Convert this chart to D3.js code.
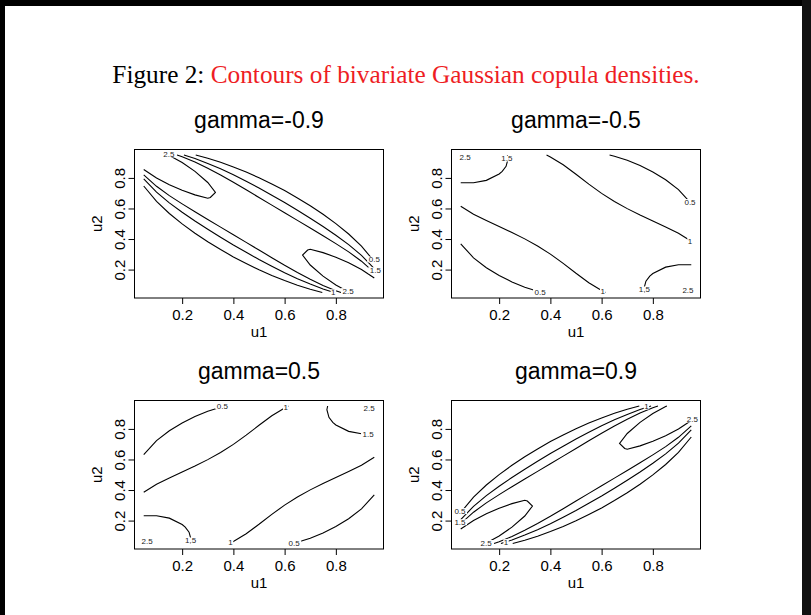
<!DOCTYPE html>
<html>
<head>
<meta charset="utf-8">
<script src="https://cdn.jsdelivr.net/npm/d3@7"></script>
<style>
  body { margin: 0; background: #fff; }
  svg { display: block; }
</style>
</head>
<body>
<svg id="fig" width="811" height="615"></svg>
<script>
// correlation of each panel, in reading order
const gammas = [-0.9, -0.5, 0.5, 0.9];
const axisTicks = [0.2, 0.4, 0.6, 0.8];

// contour lines per panel: level + [u1, u2] points
const linesM09 = [
  { level: 2.5, pts: [[0.145,0.95],[0.15,0.9465],[0.20,0.901],[0.25,0.843],[0.30,0.770],[0.33,0.705],[0.31,0.672],[0.30,0.667],[0.25,0.689],[0.20,0.719],[0.15,0.755],[0.10,0.799],[0.05,0.855]] },
  { level: 1.5, pts: [[0.18,0.95],[0.20,0.938],[0.25,0.904],[0.30,0.863],[0.35,0.819],[0.40,0.772],[0.45,0.722],[0.50,0.672],[0.55,0.622],[0.60,0.572],[0.65,0.522],[0.70,0.472],[0.75,0.422],[0.80,0.370],[0.85,0.316],[0.90,0.255],[0.95,0.180]] },
  { level: 1, pts: [[0.207,0.95],[0.25,0.927],[0.30,0.895],[0.35,0.860],[0.40,0.821],[0.45,0.778],[0.50,0.734],[0.55,0.687],[0.60,0.639],[0.65,0.588],[0.70,0.536],[0.75,0.482],[0.80,0.425],[0.85,0.363],[0.90,0.293],[0.95,0.207]] },
  { level: 0.5, pts: [[0.253,0.95],[0.30,0.929],[0.35,0.902],[0.40,0.872],[0.45,0.838],[0.50,0.801],[0.55,0.760],[0.60,0.717],[0.65,0.669],[0.70,0.618],[0.75,0.562],[0.80,0.501],[0.85,0.433],[0.90,0.354],[0.95,0.253]] },
  { level: 1.5, pts: [[0.05,0.820],[0.10,0.745],[0.15,0.684],[0.20,0.630],[0.25,0.578],[0.30,0.528],[0.35,0.478],[0.40,0.428],[0.45,0.378],[0.50,0.328],[0.55,0.278],[0.60,0.228],[0.65,0.181],[0.70,0.137],[0.75,0.096],[0.80,0.062],[0.82,0.05]] },
  { level: 1, pts: [[0.05,0.793],[0.10,0.707],[0.15,0.637],[0.20,0.575],[0.25,0.518],[0.30,0.464],[0.35,0.412],[0.40,0.361],[0.45,0.313],[0.50,0.266],[0.55,0.222],[0.60,0.179],[0.65,0.140],[0.70,0.105],[0.75,0.073],[0.793,0.05]] },
  { level: 0.5, pts: [[0.05,0.747],[0.10,0.646],[0.15,0.567],[0.20,0.499],[0.25,0.438],[0.30,0.382],[0.35,0.331],[0.40,0.283],[0.45,0.240],[0.50,0.199],[0.55,0.162],[0.60,0.128],[0.65,0.098],[0.70,0.071],[0.747,0.05]] },
  { level: 2.5, pts: [[0.95,0.145],[0.90,0.201],[0.85,0.245],[0.80,0.281],[0.75,0.311],[0.70,0.333],[0.69,0.328],[0.67,0.295],[0.70,0.230],[0.75,0.157],[0.80,0.099],[0.85,0.0535],[0.855,0.05]] }
];
const labelsM09 = [["2.5",0.148,0.954],["0.5",0.950,0.266],["1.5",0.954,0.196],["1",0.790,0.051],["2.5",0.848,0.059]];

const linesM05 = [
  { level: 2.5, pts: [[0.05,0.923],[0.077,0.95]] },
  { level: 1.5, pts: [[0.05,0.768],[0.10,0.768],[0.15,0.784],[0.20,0.826],[0.212,0.843],[0.227,0.876],[0.235,0.926],[0.232,0.95]] },
  { level: 1, pts: [[0.385,0.95],[0.40,0.9375],[0.45,0.886],[0.50,0.824],[0.55,0.759],[0.60,0.699],[0.65,0.646],[0.70,0.599],[0.75,0.557],[0.80,0.518],[0.85,0.479],[0.90,0.438],[0.95,0.385]] },
  { level: 0.5, pts: [[0.631,0.95],[0.65,0.9415],[0.70,0.915],[0.75,0.881],[0.80,0.839],[0.85,0.788],[0.90,0.723],[0.95,0.631]] },
  { level: 1, pts: [[0.05,0.615],[0.10,0.562],[0.15,0.521],[0.20,0.482],[0.25,0.443],[0.30,0.401],[0.35,0.354],[0.40,0.301],[0.45,0.241],[0.50,0.176],[0.55,0.114],[0.60,0.0625],[0.615,0.05]] },
  { level: 0.5, pts: [[0.05,0.369],[0.10,0.277],[0.15,0.212],[0.20,0.161],[0.25,0.119],[0.30,0.085],[0.35,0.0585],[0.369,0.05]] },
  { level: 1.5, pts: [[0.95,0.232],[0.90,0.232],[0.85,0.216],[0.80,0.174],[0.788,0.157],[0.773,0.124],[0.765,0.074],[0.768,0.05]] },
  { level: 2.5, pts: [[0.95,0.077],[0.923,0.05]] }
];
const labelsM05 = [["2.5",0.067,0.936],["1.5",0.230,0.927],["0.5",0.945,0.642],["1",0.945,0.389],["0.5",0.360,0.053],["1",0.604,0.057],["1.5",0.767,0.070],["2.5",0.937,0.064]];

const linesP05 = [
  { level: 2.5, pts: [[0.95,0.923],[0.923,0.95]] },
  { level: 1.5, pts: [[0.95,0.768],[0.90,0.768],[0.85,0.784],[0.80,0.826],[0.788,0.843],[0.773,0.876],[0.765,0.926],[0.768,0.95]] },
  { level: 1, pts: [[0.615,0.95],[0.60,0.9375],[0.55,0.886],[0.50,0.824],[0.45,0.759],[0.40,0.699],[0.35,0.646],[0.30,0.599],[0.25,0.557],[0.20,0.518],[0.15,0.479],[0.10,0.438],[0.05,0.385]] },
  { level: 0.5, pts: [[0.369,0.95],[0.35,0.9415],[0.30,0.915],[0.25,0.881],[0.20,0.839],[0.15,0.788],[0.10,0.723],[0.05,0.631]] },
  { level: 1, pts: [[0.95,0.615],[0.90,0.562],[0.85,0.521],[0.80,0.482],[0.75,0.443],[0.70,0.401],[0.65,0.354],[0.60,0.301],[0.55,0.241],[0.50,0.176],[0.45,0.114],[0.40,0.0625],[0.385,0.05]] },
  { level: 0.5, pts: [[0.95,0.369],[0.90,0.277],[0.85,0.212],[0.80,0.161],[0.75,0.119],[0.70,0.085],[0.65,0.0585],[0.631,0.05]] },
  { level: 1.5, pts: [[0.05,0.232],[0.10,0.232],[0.15,0.216],[0.20,0.174],[0.212,0.157],[0.227,0.124],[0.235,0.074],[0.232,0.05]] },
  { level: 2.5, pts: [[0.05,0.077],[0.077,0.05]] }
];
const labelsP05 = [["0.5",0.357,0.949],["1",0.604,0.943],["2.5",0.930,0.936],["1.5",0.926,0.767],["2.5",0.063,0.064],["1.5",0.233,0.070],["1",0.389,0.059],["0.5",0.637,0.053]];

const linesP09 = [
  { level: 2.5, pts: [[0.855,0.95],[0.85,0.9465],[0.80,0.901],[0.75,0.843],[0.70,0.770],[0.67,0.705],[0.69,0.672],[0.70,0.667],[0.75,0.689],[0.80,0.719],[0.85,0.755],[0.90,0.799],[0.95,0.855]] },
  { level: 1.5, pts: [[0.82,0.95],[0.80,0.938],[0.75,0.904],[0.70,0.863],[0.65,0.819],[0.60,0.772],[0.55,0.722],[0.50,0.672],[0.45,0.622],[0.40,0.572],[0.35,0.522],[0.30,0.472],[0.25,0.422],[0.20,0.370],[0.15,0.316],[0.10,0.255],[0.05,0.180]] },
  { level: 1, pts: [[0.793,0.95],[0.75,0.927],[0.70,0.895],[0.65,0.860],[0.60,0.821],[0.55,0.778],[0.50,0.734],[0.45,0.687],[0.40,0.639],[0.35,0.588],[0.30,0.536],[0.25,0.482],[0.20,0.425],[0.15,0.363],[0.10,0.293],[0.05,0.207]] },
  { level: 0.5, pts: [[0.747,0.95],[0.70,0.929],[0.65,0.902],[0.60,0.872],[0.55,0.838],[0.50,0.801],[0.45,0.760],[0.40,0.717],[0.35,0.669],[0.30,0.618],[0.25,0.562],[0.20,0.501],[0.15,0.433],[0.10,0.354],[0.05,0.253]] },
  { level: 1.5, pts: [[0.95,0.820],[0.90,0.745],[0.85,0.684],[0.80,0.630],[0.75,0.578],[0.70,0.528],[0.65,0.478],[0.60,0.428],[0.55,0.378],[0.50,0.328],[0.45,0.278],[0.40,0.228],[0.35,0.181],[0.30,0.137],[0.25,0.096],[0.20,0.062],[0.18,0.05]] },
  { level: 1, pts: [[0.95,0.793],[0.90,0.707],[0.85,0.637],[0.80,0.575],[0.75,0.518],[0.70,0.464],[0.65,0.412],[0.60,0.361],[0.55,0.313],[0.50,0.266],[0.45,0.222],[0.40,0.179],[0.35,0.140],[0.30,0.105],[0.25,0.073],[0.207,0.05]] },
  { level: 0.5, pts: [[0.95,0.747],[0.90,0.646],[0.85,0.567],[0.80,0.499],[0.75,0.438],[0.70,0.382],[0.65,0.331],[0.60,0.283],[0.55,0.240],[0.50,0.199],[0.45,0.162],[0.40,0.128],[0.35,0.098],[0.30,0.071],[0.253,0.05]] },
  { level: 2.5, pts: [[0.05,0.145],[0.10,0.201],[0.15,0.245],[0.20,0.281],[0.25,0.311],[0.30,0.333],[0.31,0.328],[0.33,0.295],[0.30,0.230],[0.25,0.157],[0.20,0.099],[0.15,0.0535],[0.145,0.05]] }
];
const labelsP09 = [["0.5",0.047,0.262],["1.5",0.047,0.189],["1",0.775,0.947],["2.5",0.954,0.862],["2.5",0.149,0.053],["1",0.227,0.059]];

const svg = d3.select('#fig');
const sans = 'Liberation Sans, Arial, Helvetica, sans-serif';

// page frame
svg.append('rect').attr('x', 0).attr('y', 0).attr('width', 811).attr('height', 6).attr('fill', '#000');
svg.append('rect').attr('x', 0).attr('y', 0).attr('width', 5).attr('height', 615).attr('fill', '#000');
svg.append('rect').attr('x', 802).attr('y', 0).attr('width', 9).attr('height', 615).attr('fill', '#111');

// caption
const cap = svg.append('text')
  .attr('x', 406).attr('y', 83)
  .attr('text-anchor', 'middle')
  .style('font-family', 'Liberation Serif, Times New Roman, serif')
  .style('font-size', '25.3px');
cap.append('tspan').attr('fill', '#000').text('Figure 2: ');
cap.append('tspan').attr('fill', '#ee1d24').text('Contours of bivariate Gaussian copula densities.');

const panels = [
  { gamma: gammas[0], lines: linesM09, labels: labelsM09, left: 134.5, top: 149.5 },
  { gamma: gammas[1], lines: linesM05, labels: labelsM05, left: 451.5, top: 149.5 },
  { gamma: gammas[2], lines: linesP05, labels: labelsP05, left: 134.5, top: 400.5 },
  { gamma: gammas[3], lines: linesP09, labels: labelsP09, left: 451.5, top: 400.5 }
];
const pw = 249, ph = 148.5;

panels.forEach(p => {
  const g = svg.append('g').attr('transform', `translate(${p.left},${p.top})`);
  const x = d3.scaleLinear().domain([0.014, 0.986]).range([0, pw]);
  const y = d3.scaleLinear().domain([0.014, 0.986]).range([ph, 0]);

  const line = d3.line().x(d => x(d[0])).y(d => y(d[1]));
  g.selectAll('path.contour')
    .data(p.lines)
    .enter()
    .append('path')
    .attr('class', 'contour')
    .attr('d', d => line(d.pts))
    .attr('fill', 'none')
    .attr('stroke', '#000')
    .attr('stroke-width', 1.1);

  // level labels sit on the line ends
  const lab = g.selectAll('g.lab')
    .data(p.labels)
    .enter()
    .append('g')
    .attr('class', 'lab')
    .attr('transform', d => `translate(${x(d[1])},${y(d[2])})`);
  lab.append('rect')
    .attr('x', d => -d[0].length * 2.2 - 0.5)
    .attr('y', -3)
    .attr('width', d => d[0].length * 4.4 + 1)
    .attr('height', 6)
    .attr('fill', '#fff');
  lab.append('text')
    .attr('text-anchor', 'middle')
    .attr('dy', '0.35em')
    .style('font-family', sans)
    .style('font-size', '8px')
    .attr('fill', '#222')
    .text(d => d[0]);

  g.append('rect')
    .attr('width', pw).attr('height', ph)
    .attr('fill', 'none').attr('stroke', '#000').attr('stroke-width', 1);

  const xAxis = g.append('g')
    .attr('transform', `translate(0,${ph})`)
    .call(d3.axisBottom(x).tickValues(axisTicks).tickSize(6).tickPadding(3).tickFormat(d3.format('.1f')));
  const yAxis = g.append('g')
    .call(d3.axisLeft(y).tickValues(axisTicks).tickSize(6).tickPadding(3).tickFormat(d3.format('.1f')));
  [xAxis, yAxis].forEach(a => {
    a.select('.domain').remove();
    a.selectAll('.tick line').attr('stroke', '#000');
    a.selectAll('text').style('font-family', sans).style('font-size', '15px').attr('fill', '#000');
  });
  xAxis.selectAll('text').attr('y', 11);
  // y tick labels run along the axis
  yAxis.selectAll('.tick text')
    .attr('x', null).attr('dy', null)
    .attr('text-anchor', 'middle')
    .attr('transform', 'translate(-10,0) rotate(-90)');

  g.append('text')
    .attr('x', pw / 2).attr('y', ph + 39)
    .attr('text-anchor', 'middle')
    .style('font-family', sans).style('font-size', '15px')
    .text('u1');
  g.append('text')
    .attr('transform', `translate(-33,${ph / 2}) rotate(-90)`)
    .attr('text-anchor', 'middle')
    .style('font-family', sans).style('font-size', '15px')
    .text('u2');

  g.append('text')
    .attr('x', pw / 2).attr('y', -22)
    .attr('text-anchor', 'middle')
    .style('font-family', sans).style('font-size', '23px')
    .text('gamma=' + p.gamma);
});
</script>
</body>
</html>
